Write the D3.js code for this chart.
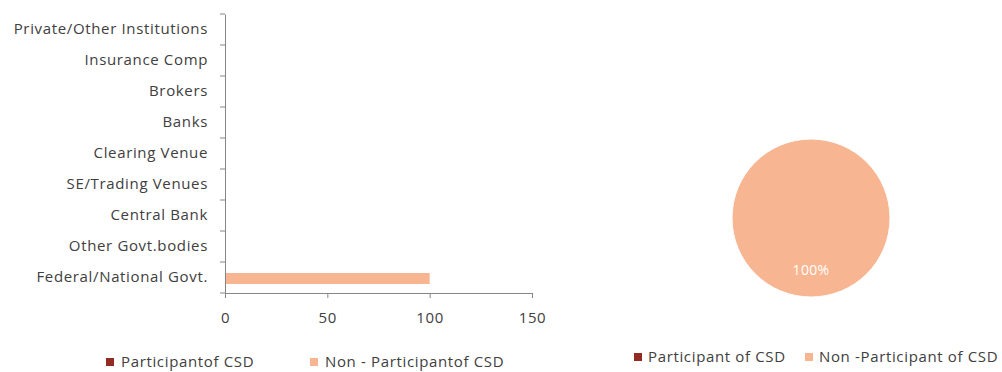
<!DOCTYPE html>
<html><head><meta charset="utf-8">
<script src="https://cdn.jsdelivr.net/npm/d3@7"></script>
<style>body{margin:0;background:#fff}svg{display:block}text{font-family:"Open Sans",sans-serif;fill:#404040;letter-spacing:0.65px}</style>
</head><body><svg id="c" width="1002" height="372"></svg>
<script>
const categories = ["Private/Other Institutions","Insurance Comp","Brokers","Banks","Clearing Venue","SE/Trading Venues","Central Bank","Other Govt.bodies","Federal/National Govt."];
const participant = [0,0,0,0,0,0,0,0,0];
const nonParticipant = [0,0,0,0,0,0,0,0,100];
const xTicks = [0,50,100,150];
const pieLabels = ["Participant of CSD","Non -Participant of CSD"];
const pieValues = [0,100];
const barLegend = ["Participantof CSD","Non - Participantof CSD"];
const colors = ["#922B21","#F8B591"];

const svg = d3.select("#c");
const fs = 15;
const x = d3.scaleLinear().domain([0,150]).range([225,532]);
const y = d3.scaleBand().domain(categories).range([14,293]);
const axisColor = "#868686";

// bars
const g = svg.append("g");
const bh = 11;
categories.forEach((c,i)=>{
  const yc = y(c)+y.bandwidth()/2;
  g.append("rect").attr("x",x(0)).attr("y",yc-bh).attr("width",x(participant[i])-x(0)).attr("height",bh).attr("fill",colors[0]);
  g.append("rect").attr("x",x(0)).attr("y",yc-bh/2+1).attr("width",x(nonParticipant[i])-x(0)).attr("height",bh).attr("fill",colors[1]);
});

// y axis
const ya = svg.append("g").attr("transform",`translate(${x(0)},0)`)
  .call(d3.axisLeft(y).tickSize(0).tickPadding(17));
ya.select(".domain").attr("stroke",axisColor);
ya.selectAll("text").style("font-size",fs+"px").attr("fill","#404040").style("font-family",'"Open Sans",sans-serif');
const bounds = categories.map(c=>y(c)).concat([y.range()[1]]);
svg.append("g").selectAll("line").data(bounds).join("line")
  .attr("x1",x(0)-5).attr("x2",x(0)).attr("y1",d=>d).attr("y2",d=>d).attr("stroke",axisColor);

// x axis
const xa = svg.append("g").attr("transform",`translate(0,293)`)
  .call(d3.axisBottom(x).tickValues(xTicks).tickSize(5).tickSizeOuter(0).tickPadding(14));
xa.select(".domain").attr("stroke",axisColor);
xa.selectAll(".tick line").attr("stroke",axisColor);
xa.selectAll("text").style("font-size",fs+"px").attr("fill","#404040").style("font-family",'"Open Sans",sans-serif');

// bar legend
const leg1 = [{x:106,t:barLegend[0],c:colors[0]},{x:310,t:barLegend[1],c:colors[1]}];
leg1.forEach(d=>{
  svg.append("rect").attr("x",d.x).attr("y",358).attr("width",8).attr("height",8).attr("fill",d.c);
  svg.append("text").attr("x",d.x+15).attr("y",367).style("font-size",fs+"px").text(d.t);
});

// pie
const pie = d3.pie().sort(null)(pieValues);
const arc = d3.arc().innerRadius(0).outerRadius(79);
const pg = svg.append("g").attr("transform","translate(811,218)");
pg.selectAll("path").data(pie).join("path").attr("d",arc).attr("fill",(d,i)=>colors[i]).attr("stroke","#fff").attr("stroke-width",1);
pie.forEach((d,i)=>{
  if(d.value>0){
    pg.append("text").attr("x",0).attr("y",57).attr("text-anchor","middle").style("font-size","14px").style("fill","#fff").style("letter-spacing","0.3px")
      .text(d3.format(".0%")(d.value/d3.sum(pieValues)));
  }
});

// pie legend
const leg2 = [{x:634,t:pieLabels[0],c:colors[0]},{x:805,t:pieLabels[1],c:colors[1]}];
leg2.forEach(d=>{
  svg.append("rect").attr("x",d.x).attr("y",353).attr("width",8).attr("height",8).attr("fill",d.c);
  svg.append("text").attr("x",d.x+14).attr("y",362).style("font-size",fs+"px").text(d.t);
});
</script></body></html>
